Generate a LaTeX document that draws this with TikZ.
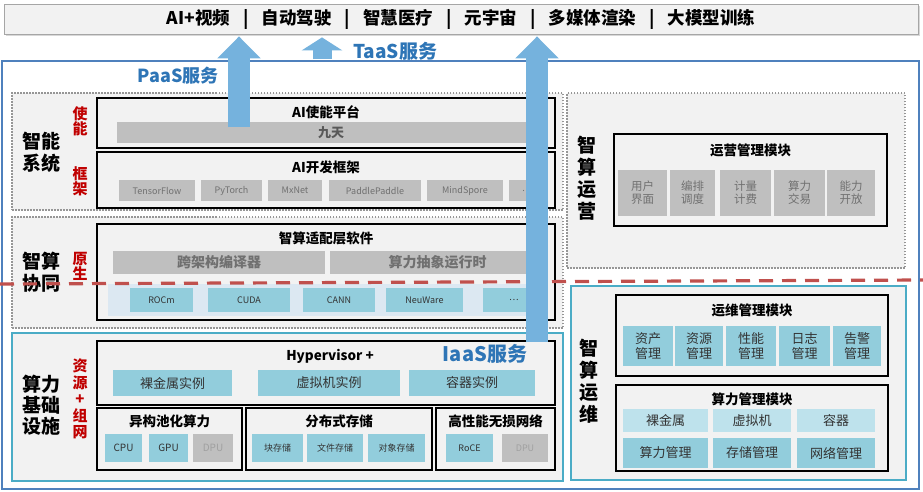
\documentclass[tikz,border=0pt]{standalone}
\usepackage{fontspec}
\setmainfont{Noto Sans CJK SC}
\usetikzlibrary{arrows.meta,shadows}

\definecolor{panelgray}{RGB}{242,242,242}
\definecolor{dotgray}{RGB}{150,150,150}
\definecolor{itemgray}{RGB}{191,191,191}
\definecolor{itemtext}{RGB}{112,112,112}
\definecolor{darktext}{RGB}{89,89,89}
\definecolor{dimtext}{RGB}{160,160,160}
\definecolor{framblue}{RGB}{79,129,189}
\definecolor{txtblue}{RGB}{46,117,182}
\definecolor{arrowblue}{RGB}{117,178,221}
\definecolor{framteal}{RGB}{75,172,198}
\definecolor{itemteal}{RGB}{146,205,220}
\definecolor{lightteal}{RGB}{190,226,236}
\definecolor{bandblue}{RGB}{220,232,242}
\definecolor{redline}{RGB}{192,80,77}
\definecolor{redtext}{RGB}{192,0,0}

\newcommand{\fsz}[2]{\fontsize{#1}{#2}\selectfont}
\newcommand{\appsep}{\hspace{13pt}|\hspace{13pt}}

\tikzset{
  sz/.style 2 args={minimum width=#1pt,minimum height=#2pt},
  panel/.style={draw=black,line width=1.6pt,fill=panelgray,inner sep=0pt},
  dotbox/.style={draw=dotgray,line width=1.8pt,dash pattern=on 1.5pt off 1.5pt,fill=panelgray,inner sep=0pt},
  tealbox/.style={draw=framteal,line width=1.8pt,fill=panelgray,inner sep=0pt},
  grayitem/.style={fill=itemgray,text=itemtext,inner sep=0pt,font=\fsz{9}{11}},
  tealitem/.style={fill=itemteal,text=black!80,inner sep=0pt,font=\fsz{9}{11}},
  boxtitle/.style={font=\bfseries\fsz{13.5}{16}},
  sidelabel/.style={font=\bfseries\fsz{19}{22},align=center},
  redlabel/.style={font=\bfseries\fsz{15}{15},text=redtext,align=center},
  bluelabel/.style={font=\bfseries\fsz{19}{21},text=txtblue},
  bigarrow/.style={draw=arrowblue,line width=22pt,-{Triangle[length=22pt,width=42pt]}},
  reddash/.style={draw=redline,line width=3.2pt,dash pattern=on 14pt off 9pt}
}

\begin{document}
\begin{tikzpicture}[x=1pt,y=-1pt]
\useasboundingbox (0,0) rectangle (923,491);

\node[draw=black!35,line width=.8pt,fill=panelgray,sz={914}{30},inner sep=0pt,
  drop shadow={shadow xshift=1.5pt,shadow yshift=-2pt,fill=black!30},
  font=\bfseries\fsz{17.5}{19}] (apps) at (461,19)
  {AI+视频\appsep 自动驾驶\appsep 智慧医疗\appsep 元宇宙\appsep 多媒体渲染\appsep 大模型训练};

\node[draw=framblue,line width=2pt,sz={917}{428},inner sep=0pt] (paas) at (460.5,275) {};
\node[bluelabel] (taas) at (395,51) {TaaS服务};
\node[bluelabel,font=\bfseries\fsz{18}{20}] (paasl) at (178,76) {PaaS服务};

% left column
\node[dotbox,sz={551}{117}] (intel) at (287.5,151.5) {};
\node[dotbox,sz={551}{111}] (collab) at (287.5,272.5) {};
\node[tealbox,sz={551}{148}] (infra) at (287.5,407) {};

\node[sidelabel] (intell) at (42,152) {智能\\系统};
\node[redlabel] (enable) at (80,121) {使\\能};
\node[redlabel] (frame) at (80,181) {框\\架};
\node[sidelabel] (collabl) at (42,272) {智算\\协同};
\node[redlabel] (native) at (80,266) {原\\生};
\node[sidelabel,font=\bfseries\fsz{19}{21}] (infral) at (42,405) {算力\\基础\\设施};
\node[redlabel,font=\bfseries\fsz{15}{16.5}] (resnet) at (80,399) {资\\源\\+\\组\\网};

\node[panel,sz={458}{50}] (plat) at (326,123) {};
\node[boxtitle] (platt) at (326,112) {AI使能平台};
\node[grayitem,sz={428}{21},font=\bfseries\fsz{13}{15},text=darktext] (jiutian) at (331,132.5) {九天};

\node[panel,sz={458}{56}] (fw) at (326,180) {};
\node[boxtitle] (fwt) at (326,167) {AI开发框架};
\node[grayitem,sz={76}{21}] (tf) at (157,190.5) {TensorFlow};
\node[grayitem,sz={61}{21}] (pt) at (231.5,190.5) {PyTorch};
\node[grayitem,sz={54}{21}] (mx) at (295,190.5) {MxNet};
\node[grayitem,sz={92}{21}] (pp) at (375,190.5) {PaddlePaddle};
\node[grayitem,sz={76}{21}] (ms) at (465,190.5) {MindSpore};
\node[grayitem,sz={36}{21}] (fwmore) at (527,190.5) {…};

\node[panel,sz={458}{96}] (adapt) at (326,272) {};
\node[boxtitle] (adaptt) at (326,238) {智算适配层软件};
\node[grayitem,sz={212}{23},font=\bfseries\fsz{14}{16}] (comp) at (219,262.5) {跨架构编译器};
\node[grayitem,sz={215}{23},font=\bfseries\fsz{14}{16}] (runtime) at (437.5,262.5) {算力抽象运行时};
\node[fill=bandblue,sz={437}{32},inner sep=0pt] (band) at (326.5,300) {};
\node[tealitem,sz={63}{24}] (rocm) at (161.5,300) {ROCm};
\node[tealitem,sz={82}{24}] (cuda) at (249,300) {CUDA};
\node[tealitem,sz={72}{24}] (cann) at (339,300) {CANN};
\node[tealitem,sz={77}{24}] (neu) at (424.5,300) {NeuWare};
\node[tealitem,sz={62}{24}] (swmore) at (514,300) {…};

\node[panel,sz={458}{64}] (hyper) at (326,373) {};
\node[boxtitle] (hypert) at (330,356) {Hypervisor +};
\node[bluelabel,font=\bfseries\fsz{20}{22}] (iaas) at (485,354) {IaaS服务};
\node[tealitem,sz={119}{26},font=\fsz{13}{15}] (bm) at (172.5,383) {裸金属实例};
\node[tealitem,sz={142}{26},font=\fsz{13}{15}] (vm) at (329,383) {虚拟机实例};
\node[tealitem,sz={126}{26},font=\fsz{13}{15}] (ct) at (472,383) {容器实例};

\node[panel,sz={145}{62}] (pool) at (169.5,439) {};
\node[boxtitle] (poolt) at (169.5,421) {异构池化算力};
\node[tealitem,sz={37}{28},font=\fsz{10}{12}] (cpu) at (123.5,448) {CPU};
\node[tealitem,sz={39}{28},font=\fsz{10}{12}] (gpu) at (168.5,448) {GPU};
\node[grayitem,sz={40}{28},font=\fsz{10}{12},text=dimtext] (dpua) at (213,448) {DPU};

\node[panel,sz={186}{62}] (store) at (339,439) {};
\node[boxtitle] (storet) at (339,421) {分布式存储};
\node[tealitem,sz={51}{28}] (blk) at (277.5,448) {块存储};
\node[tealitem,sz={56}{28}] (file) at (335,448) {文件存储};
\node[tealitem,sz={57}{28}] (obj) at (396.5,448) {对象存储};

\node[panel,sz={119}{62}] (net) at (495.5,439) {};
\node[boxtitle] (nett) at (495.5,421) {高性能无损网络};
\node[tealitem,sz={47}{28}] (roce) at (469.5,448) {RoCE};
\node[grayitem,sz={46}{28},text=dimtext] (dpub) at (525,448) {DPU};

% right column
\node[dotbox,sz={338}{175}] (ops) at (736,180.5) {};
\node[sidelabel] (opsl) at (587,178) {智\\算\\运\\营};
\node[panel,sz={273}{92}] (opsmod) at (750.5,180) {};
\node[boxtitle] (opsmodt) at (750.5,150) {运营管理模块};
\node[grayitem,sz={49}{46},font=\fsz{11.5}{13},align=center] (ui) at (642.5,193) {用户\\界面};
\node[grayitem,sz={45}{46},font=\fsz{11.5}{13},align=center] (sched) at (692.5,193) {编排\\调度};
\node[grayitem,sz={51}{46},font=\fsz{11.5}{13},align=center] (bill) at (745.5,193) {计量\\计费};
\node[grayitem,sz={51}{46},font=\fsz{11.5}{13},align=center] (trade) at (799.5,193) {算力\\交易};
\node[grayitem,sz={48}{46},font=\fsz{11.5}{13},align=center] (open) at (851,193) {能力\\开放};

\node[tealbox,sz={335}{194}] (om) at (738.5,383) {};
\node[sidelabel] (oml) at (589,381) {智\\算\\运\\维};
\node[panel,sz={272}{81}] (ommod) at (752,335.5) {};
\node[boxtitle] (ommodt) at (752,310) {运维管理模块};
\node[tealitem,sz={50}{40},font=\fsz{13}{15},align=center] (asset) at (648,346) {资产\\管理};
\node[tealitem,sz={48}{40},font=\fsz{13}{15},align=center] (res) at (699,346) {资源\\管理};
\node[tealitem,sz={50}{40},font=\fsz{13}{15},align=center] (perf) at (751,346) {性能\\管理};
\node[tealitem,sz={51}{40},font=\fsz{13}{15},align=center] (log) at (804.5,346) {日志\\管理};
\node[tealitem,sz={48}{40},font=\fsz{13}{15},align=center] (alarm) at (857,346) {告警\\管理};

\node[panel,sz={272}{86}] (cpmod) at (752,428) {};
\node[boxtitle] (cpmodt) at (752,399) {算力管理模块};
\node[tealitem,fill=lightteal,sz={85}{23},font=\fsz{13}{15}] (rbm) at (665.5,420.5) {裸金属};
\node[tealitem,fill=lightteal,sz={78}{23},font=\fsz{13}{15}] (rvm) at (752,420.5) {虚拟机};
\node[tealitem,fill=lightteal,sz={78}{23},font=\fsz{13}{15}] (rct) at (836,420.5) {容器};
\node[tealitem,sz={85}{30},font=\fsz{13}{15}] (cpm) at (665.5,453) {算力管理};
\node[tealitem,sz={78}{30},font=\fsz{13}{15}] (stm) at (752,453) {存储管理};
\node[tealitem,sz={78}{30},font=\fsz{13}{15}] (ntm) at (836,453) {网络管理};

% separator and arrows
\coordinate (sepl) at (0,284);
\coordinate (sepr) at (923,280);
\draw[reddash] (sepl) -- (sepr);

\coordinate (lfoot) at (239,127);
\coordinate (rfoot) at (537,342);
\coordinate (tfoot) at (322,59);
\draw[bigarrow] (lfoot) -- ([yshift=-2pt]apps.south -| lfoot);
\draw[bigarrow] (rfoot) -- ([yshift=-2pt]apps.south -| rfoot);
\draw[draw=arrowblue,line width=19pt,-{Triangle[length=13pt,width=40pt]}] (tfoot) -- ([yshift=-3pt]apps.south -| tfoot);
\end{tikzpicture}
\end{document}
